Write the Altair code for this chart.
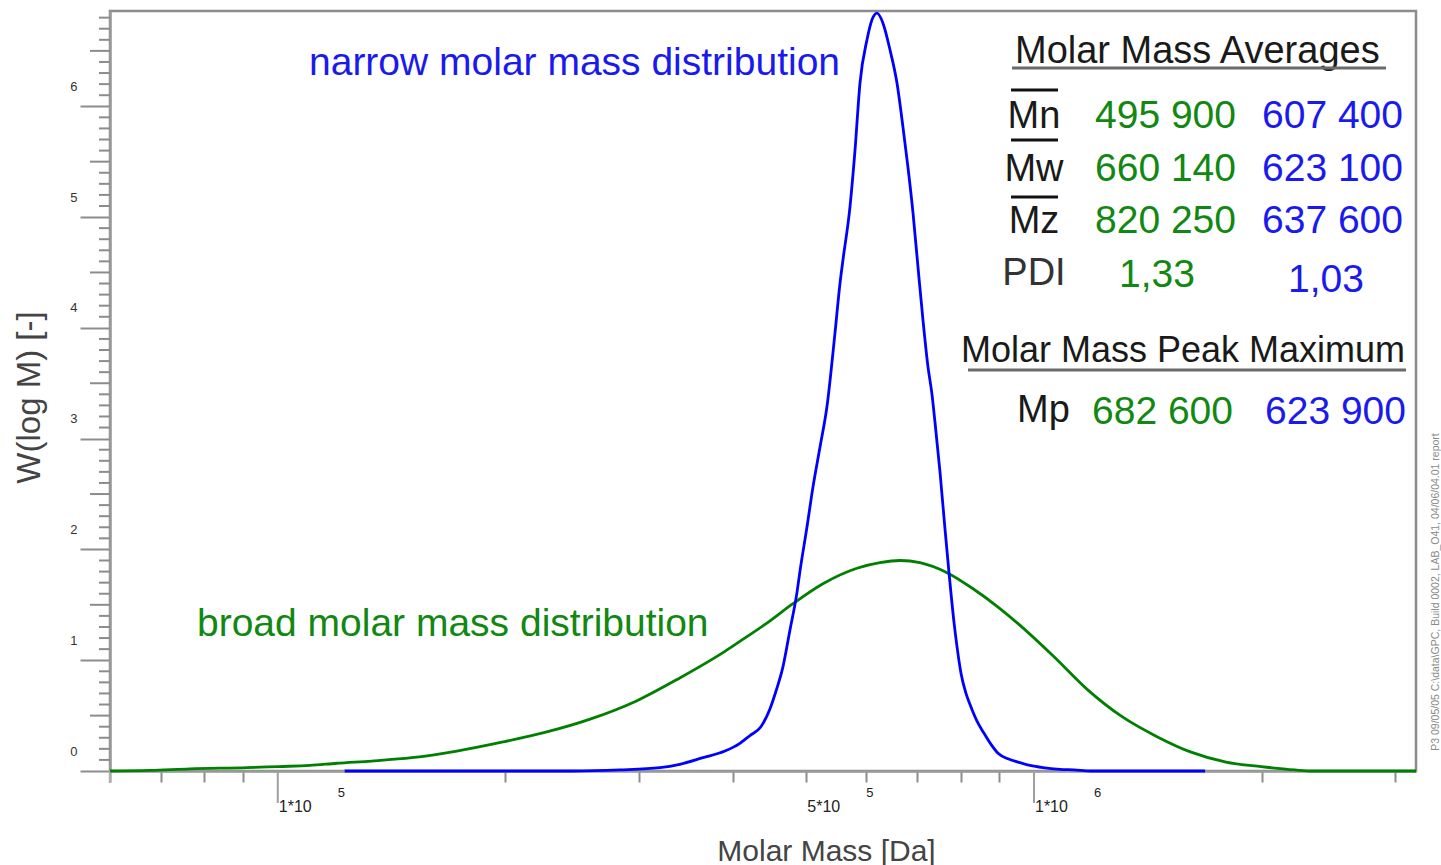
import altair as alt
import pandas as pd

# ---------------- data ----------------
narrow_M = [122600, 245600, 283400, 320100, 340100, 365000, 390200, 408400, 421100, 435400,
            447500, 455800, 465600, 475600, 485900, 490300, 500900, 510100, 521100, 532400,
            545500, 553900, 558900, 571000, 579800, 588700, 601400, 610600, 620000, 631400,
            645000, 658900, 671100, 681300, 691800, 702400, 713200, 724100, 733000, 739700,
            751100, 762700, 772000, 783900, 791100, 800800, 813000, 823000, 840700, 858900,
            877400, 896300, 924000, 952700, 987900, 1027800, 1082400, 1129600, 1189700, 1683700]
narrow_W = [0, 0, 0.01, 0.03, 0.06, 0.12, 0.18, 0.25, 0.32, 0.40,
            0.56, 0.72, 0.94, 1.27, 1.61, 1.80, 2.20, 2.56, 2.92, 3.29,
            3.95, 4.40, 4.61, 5.09, 5.60, 6.21, 6.60, 6.78, 6.84, 6.75,
            6.51, 6.21, 5.81, 5.45, 5.04, 4.55, 4.07, 3.65, 3.40, 3.15,
            2.70, 2.18, 1.79, 1.34, 1.12, 0.88, 0.70, 0.60, 0.45, 0.34,
            0.24, 0.16, 0.11, 0.08, 0.05, 0.03, 0.015, 0.01, 0, 0]

broad_M = [60000, 67710, 76490, 90990, 100300, 110240, 119700, 133100, 150400, 172500,
           197900, 226200, 259400, 297600, 340100, 390200, 408400, 443400, 480000, 525900,
           583300, 625700, 665000, 706700, 767300, 830600, 896300, 952700, 1059500,
           1178800, 1307600, 1454300, 1613500, 1794800, 1996400, 2214100, 2332500, 3200000]
broad_W = [0, 0.005, 0.02, 0.03, 0.04, 0.05, 0.07, 0.09, 0.12, 0.18,
           0.26, 0.35, 0.47, 0.63, 0.84, 1.08, 1.17, 1.335, 1.51, 1.69,
           1.83, 1.88, 1.90, 1.88, 1.79, 1.645, 1.48, 1.33, 1.04,
           0.73, 0.49, 0.31, 0.17, 0.08, 0.04, 0.01, 0, 0]

row_labels = ["Mn", "Mw", "Mz", "PDI"]
broad_values = ["495 900", "660 140", "820 250", "1,33"]
narrow_values = ["607 400", "623 100", "637 600", "1,03"]
peak_label = "Mp"
peak_broad = "682 600"
peak_narrow = "623 900"

x_major_ticks = [100000, 1000000]
x_label_ticks = [100000, 500000, 1000000]
x_label_base = ["1*10", "5*10", "1*10"]
x_label_exp = ["5", "5", "6"]
x_minor_ticks = [60000, 70000, 80000, 90000, 200000, 300000, 400000, 500000,
                 600000, 700000, 800000, 900000, 2000000, 3000000]
y_major_ticks = [0, 1, 2, 3, 4, 5, 6]
y_half_ticks = [0.5, 1.5, 2.5, 3.5, 4.5, 5.5, 6.5]
y_minor_ticks = [round(i * 0.1, 1) for i in range(1, 69) if i % 5 != 0]

# ---------------- styling ----------------
FONT = "Liberation Sans"
GREEN = "#008000"
BLUE = "#0000ff"
GREEN_T = "#118811"
BLUE_T = "#1a1aee"
AX = "#8c8c8c"
W, H = 1306, 760

xscale = alt.Scale(type="log", domain=[60000, 3200000], nice=False)
yscale = alt.Scale(domain=[0, 6.86], nice=False, zero=False)

xaxis = alt.Axis(values=x_minor_ticks, tickSize=11, tickWidth=2, tickColor=AX,
                 labels=False, domainColor="#9a9a9a", domainWidth=2.5, grid=False,
                 title="Molar Mass [Da]", titleFont=FONT, titleFontSize=30,
                 titleFontWeight="normal", titleColor="#444444",
                 titleX=716, titleY=89, titleBaseline="alphabetic", titleAlign="center")
yaxis = alt.Axis(values=y_major_ticks, tickSize=30, tickWidth=2, tickColor=AX,
                 domainColor="#9a9a9a", domainWidth=2.5, grid=False,
                 labelFont=FONT, labelFontSize=13, labelColor="#333333",
                 labelPadding=3, labelOffset=-20,
                 title="W(log M)  [-]", titleFont=FONT, titleFontSize=33,
                 titleFontWeight="normal", titleColor="#444444", titleAngle=270,
                 titleX=-71, titleY=386, titleBaseline="alphabetic", titleAlign="center")

broad_df = pd.DataFrame({"M": broad_M, "W": broad_W})
narrow_df = pd.DataFrame({"M": narrow_M, "W": narrow_W})

X = alt.X("M:Q", scale=xscale, axis=xaxis)
Y = alt.Y("W:Q", scale=yscale, axis=yaxis)

broad_line = alt.Chart(broad_df).mark_line(color=GREEN, strokeWidth=2.8,
                                           interpolate="monotone").encode(x=X, y=Y)
narrow_line = alt.Chart(narrow_df).mark_line(color=BLUE, strokeWidth=2.8,
                                             interpolate="monotone").encode(x=X, y=Y)

# extra ticks
y_half = alt.Chart(pd.DataFrame({"W": y_half_ticks})).mark_rule(
    color=AX, strokeWidth=2).encode(y=Y, x=alt.value(-20), x2=alt.value(0))
y_minor = alt.Chart(pd.DataFrame({"W": y_minor_ticks})).mark_rule(
    color=AX, strokeWidth=2).encode(y=Y, x=alt.value(-11), x2=alt.value(0))
x_major = alt.Chart(pd.DataFrame({"M": x_major_ticks})).mark_rule(
    color="#a0a0a0", strokeWidth=2).encode(x=X, y=alt.value(H), y2=alt.value(H + 32))
axis_ext = alt.Chart(pd.DataFrame({"a": [0]})).mark_rule(
    color="#b0b0b0", strokeWidth=2.5).encode(x=alt.value(0), y=alt.value(H), y2=alt.value(H + 12))

lab_df = pd.DataFrame({"M": x_label_ticks, "base": x_label_base, "exp": x_label_exp})
x_lab_base = alt.Chart(lab_df).mark_text(
    align="left", baseline="alphabetic", font=FONT, fontSize=16, color="#222222", dx=1
).encode(x=X, y=alt.value(H + 41), text="base:N")
x_lab_exp = alt.Chart(lab_df).mark_text(
    align="left", baseline="alphabetic", font=FONT, fontSize=13, color="#222222", dx=60
).encode(x=X, y=alt.value(H + 26), text="exp:N")


def txt(s, x, y, size, color, align="left", angle=0):
    kw = dict(align=align, baseline="alphabetic", font=FONT, fontSize=size,
              color=color, text=s)
    if angle:
        kw["angle"] = angle
    return alt.Chart(pd.DataFrame({"a": [0]})).mark_text(**kw).encode(
        x=alt.value(x), y=alt.value(y))


def hline(x1, x2, y, color, w):
    return alt.Chart(pd.DataFrame({"a": [0]})).mark_rule(color=color, strokeWidth=w).encode(
        x=alt.value(x1), x2=alt.value(x2), y=alt.value(y))


layers = [y_minor, y_half, x_major, axis_ext, broad_line, narrow_line, x_lab_base, x_lab_exp]

layers.append(txt("narrow molar mass distribution", 199, 64, 39, BLUE_T))
layers.append(txt("broad molar mass distribution", 87, 625, 39, GREEN_T))

layers.append(txt("Molar Mass Averages", 905, 52, 38, "#1a1a1a"))
layers.append(hline(902, 1276, 57, "#6a6a6a", 3))

row_base = [117, 170, 222, 274]
for i, lab in enumerate(row_labels):
    layers.append(txt(lab, 924, row_base[i], 38, "#1a1a1a" if i < 3 else "#333333", align="center"))
for yy in [79, 129, 186]:
    layers.append(hline(901, 948, yy, "#111111", 3))
for i in range(3):
    layers.append(txt(broad_values[i], 985, row_base[i], 39, GREEN_T))
    layers.append(txt(narrow_values[i], 1152, row_base[i], 39, BLUE_T))
layers.append(txt(broad_values[3], 1047, 276, 39, GREEN_T, align="center"))
layers.append(txt(narrow_values[3], 1216, 281, 39, BLUE_T, align="center"))

layers.append(txt("Molar Mass Peak Maximum", 1295, 351, 36, "#1a1a1a", align="right"))
layers.append(hline(858, 1296, 359, "#6a6a6a", 3))
layers.append(txt(peak_label, 907, 411, 38, "#1a1a1a"))
layers.append(txt(peak_broad, 982, 413, 39, GREEN_T))
layers.append(txt(peak_narrow, 1155, 413, 39, BLUE_T))

layers.append(txt("P3 09/05/05 C:\\data\\GPC, Build 0002, LAB_O41, 04/06/04.01 report", 1329, 581, 10.5,
                  "#8a8a8a", align="center", angle=270))

chart = alt.layer(*layers).properties(
    width=W, height=H,
    autosize=alt.AutoSizeParams(type="none"),
    padding={"left": 110, "top": 11, "right": 25, "bottom": 94},
    background="white",
).configure_view(stroke="#8c8c8c", strokeWidth=2.5)

chart.save("out.html", embed_options={"renderer": "svg", "actions": False})
